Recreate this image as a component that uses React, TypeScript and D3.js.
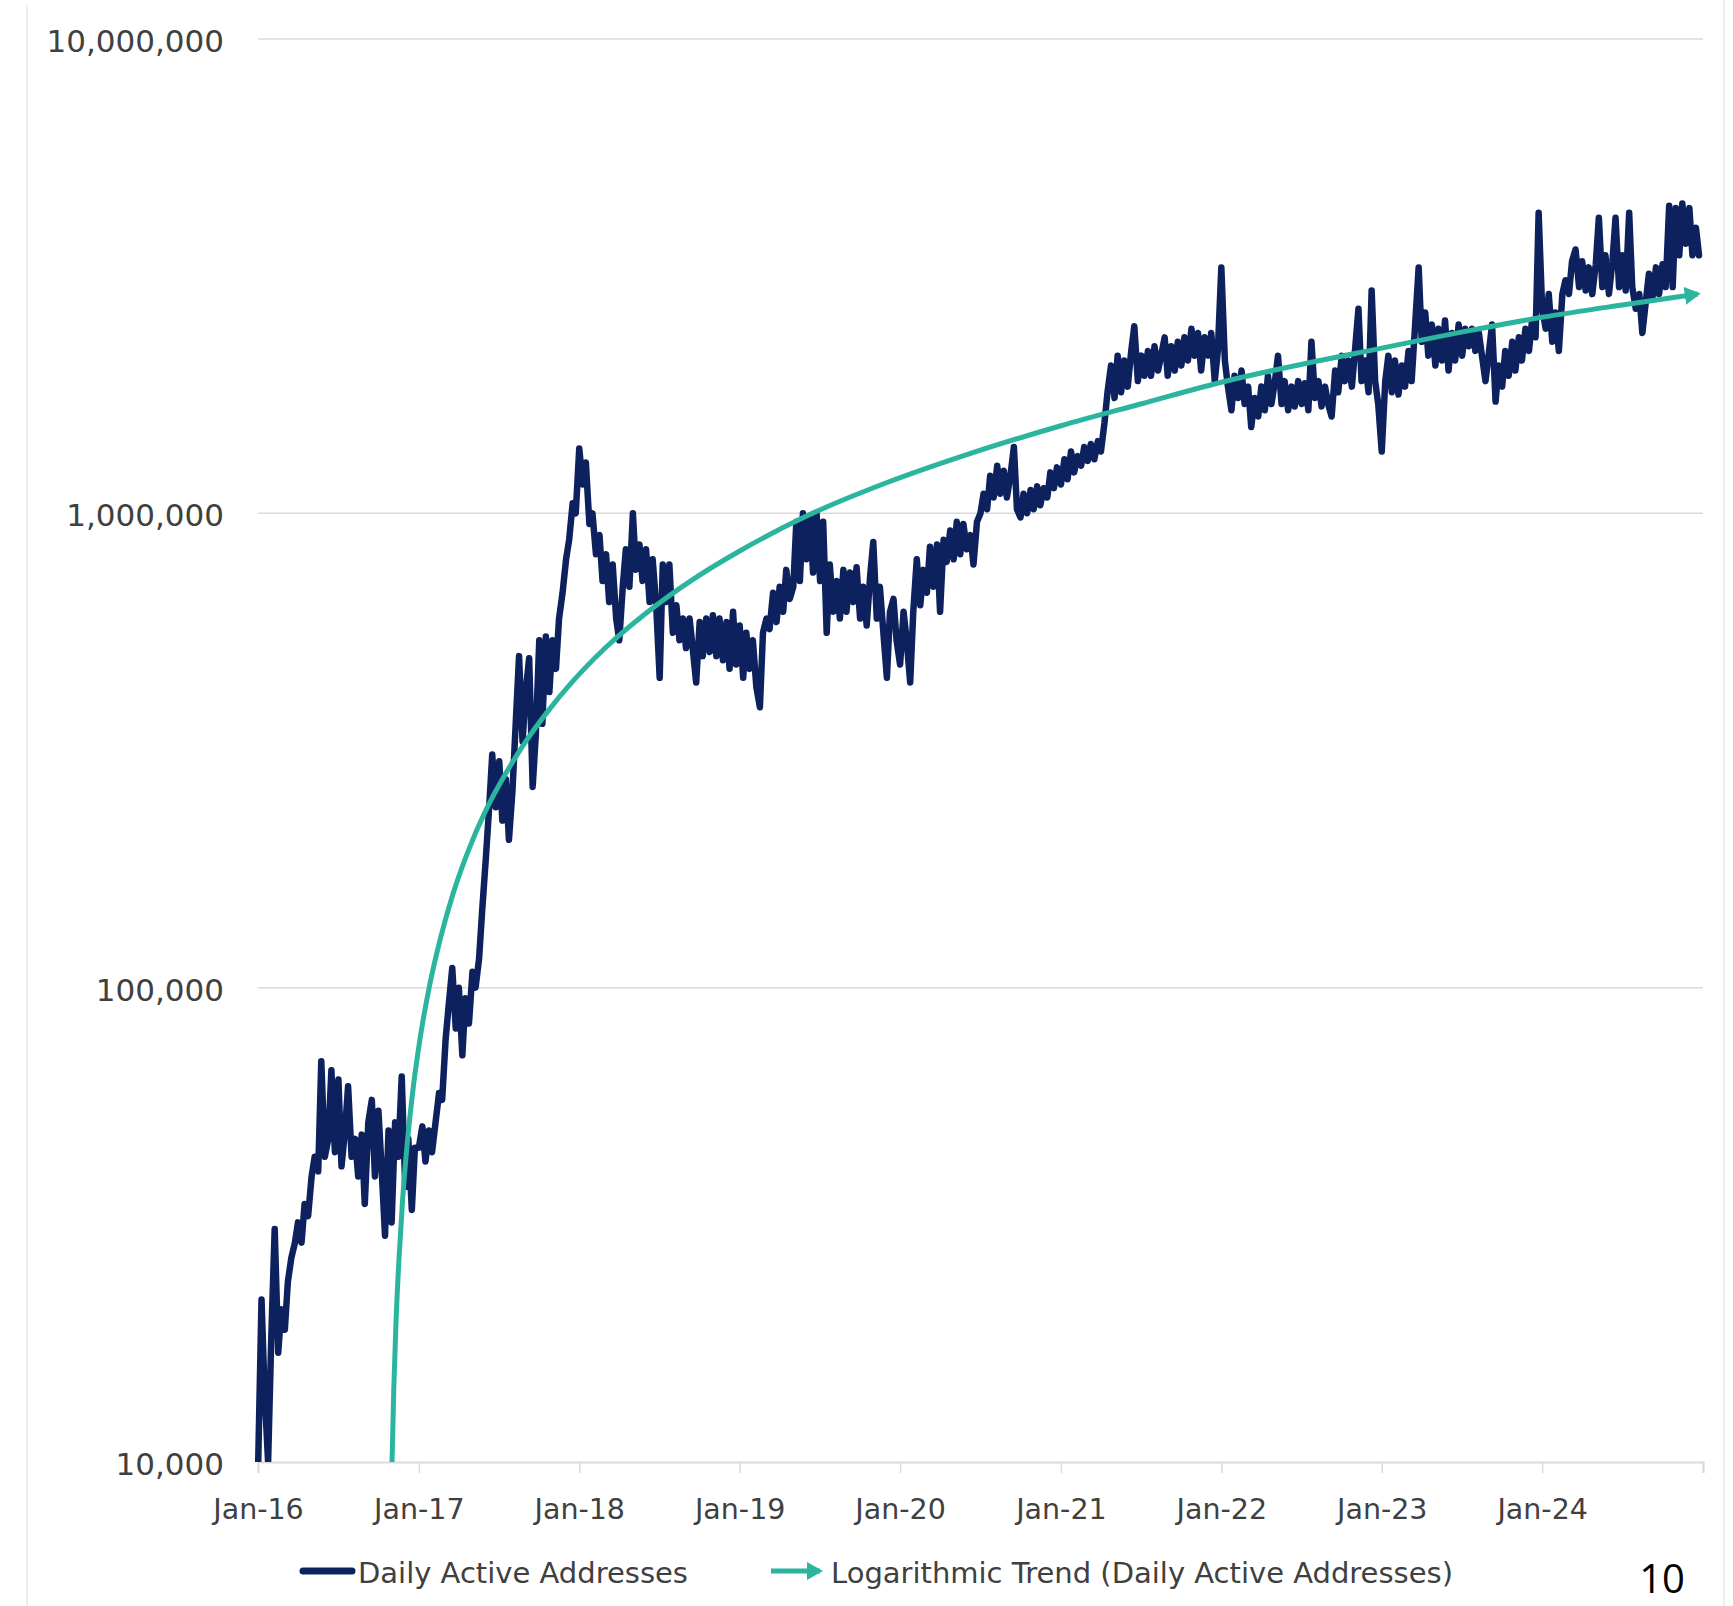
import React, { useEffect, useRef } from 'react';
import * as d3 from 'd3';

// daily active addresses in thousands, 48 readings per year
const dau2016 = [9.5, 22, 14, 10, 18, 31, 17, 21, 19, 24, 27, 29, 32, 29, 35, 33, 40, 44, 41, 70, 44, 48, 67, 45, 64, 42, 50, 62, 44, 48, 40, 49, 35, 52, 58, 40, 55, 42, 30, 50, 32, 52, 44, 65, 38, 48, 34, 46];
const dau2017 = [46, 51, 43, 50, 45, 52, 60, 58, 78, 92, 110, 82, 100, 72, 95, 84, 108, 100, 115, 145, 185, 240, 310, 240, 300, 225, 275, 205, 260, 370, 500, 330, 420, 495, 265, 340, 540, 360, 550, 420, 540, 470, 600, 680, 800, 880, 1050, 1000];
const dau2018 = [1370, 1150, 1280, 950, 1000, 820, 900, 720, 820, 650, 780, 600, 540, 700, 840, 700, 1000, 760, 860, 720, 840, 650, 800, 640, 450, 780, 650, 780, 560, 640, 540, 600, 520, 600, 510, 440, 590, 500, 600, 510, 610, 500, 600, 490, 590, 470, 620, 480];
const dau2019 = [580, 450, 560, 470, 540, 430, 390, 560, 600, 570, 680, 590, 700, 620, 760, 660, 700, 960, 720, 1000, 800, 980, 750, 1000, 720, 960, 560, 780, 620, 720, 600, 760, 620, 750, 650, 770, 600, 700, 580, 740, 870, 600, 700, 560, 450, 620, 660, 540];
const dau2020 = [480, 620, 540, 440, 620, 800, 640, 760, 680, 850, 700, 860, 620, 880, 790, 920, 800, 960, 820, 950, 840, 900, 780, 960, 1000, 1100, 1020, 1200, 1080, 1260, 1100, 1230, 1080, 1200, 1380, 1020, 980, 1100, 1000, 1120, 1020, 1140, 1040, 1130, 1080, 1220, 1130, 1250];
const dau2021 = [1150, 1300, 1180, 1350, 1220, 1320, 1260, 1380, 1290, 1400, 1300, 1420, 1350, 1550, 1800, 2050, 1750, 2150, 1800, 2100, 1850, 2200, 2480, 1900, 2150, 1950, 2200, 1950, 2250, 2000, 2150, 2350, 1950, 2250, 2000, 2300, 2050, 2350, 2100, 2450, 2150, 2400, 2000, 2350, 2150, 2400, 1900, 2200];
const dau2022 = [3300, 2100, 1850, 1650, 1950, 1750, 2000, 1700, 1850, 1520, 1750, 1600, 1850, 1650, 1950, 1700, 1900, 2150, 1700, 1900, 1650, 1850, 1680, 1900, 1700, 1880, 1650, 2300, 1750, 1900, 1680, 1850, 1700, 1600, 2000, 1800, 2150, 1900, 2100, 1850, 2200, 2700, 1900, 2100, 1800, 2950, 1900, 1700];
const dau2023 = [1350, 1900, 2150, 1800, 2100, 1780, 2050, 1850, 2200, 1900, 2500, 3300, 2300, 2650, 2150, 2500, 2050, 2450, 2100, 2550, 2000, 2400, 2100, 2500, 2150, 2450, 2250, 2450, 2200, 2400, 2150, 1900, 2150, 2500, 1720, 2050, 1850, 2200, 1950, 2300, 2000, 2350, 2100, 2450, 2200, 2550, 2350, 4300];
const dau2024 = [2700, 2450, 2900, 2300, 2650, 2200, 2900, 3100, 2900, 3400, 3600, 3000, 3400, 2950, 3300, 2900, 3350, 4200, 3000, 3500, 2900, 3400, 4200, 3000, 3500, 2950, 4300, 3000, 2700, 2900, 2400, 2800, 3200, 2850, 3300, 2900, 3350, 3000, 4450, 3000, 4400, 3500, 4500, 3700, 4400, 3500, 4000, 3500];

const years = [2016, 2017, 2018, 2019, 2020, 2021, 2022, 2023, 2024];
const yearly = [dau2016, dau2017, dau2018, dau2019, dau2020, dau2021, dau2022, dau2023, dau2024];

// logarithmic trend line (thousands)
const trendDates = ['2016-11-01', '2016-11-05', '2016-11-10', '2016-11-17', '2016-11-25', '2016-12-05', '2016-12-20', '2017-01-05', '2017-01-25', '2017-02-20', '2017-03-20', '2017-04-25', '2017-06-01', '2017-07-15', '2017-09-01', '2017-10-20', '2017-12-15', '2018-03-01', '2018-06-01', '2018-09-16', '2019-01-01', '2019-06-01', '2019-12-01', '2020-06-01', '2021-01-01', '2021-07-01', '2022-01-01', '2022-07-01', '2023-01-01', '2023-07-01', '2024-01-01', '2024-07-01', '2024-12-20'];
const trendValues = [10, 14.3, 19.7, 27, 35.7, 46.3, 62.4, 79.4, 100.6, 128, 158, 196, 235, 280, 330, 381, 440, 520, 615, 725, 833, 986, 1160, 1330, 1530, 1700, 1890, 2060, 2230, 2410, 2590, 2750, 2900];

const yTicks = [1e4, 1e5, 1e6, 1e7];
const xTickYears = [2016, 2017, 2018, 2019, 2020, 2021, 2022, 2023, 2024, 2025];
const legendLabels = ['Daily Active Addresses', 'Logarithmic Trend (Daily Active Addresses)'];
const pageNumber = '10';

const NAVY = '#0c215e';
const TEAL = '#2cb59e';
const TEXT = '#404040';
const GRID = '#dadada';
const FONT = '"DejaVu Sans", sans-serif';

function App() {
  const ref = useRef(null);

  useEffect(() => {
    const W = 1733;
    const H = 1606;
    const margin = { top: 39, right: 30, bottom: 144, left: 258 };
    const x0 = margin.left;
    const x1 = W - margin.right;
    const yTop = margin.top;
    const yBot = H - margin.bottom;

    const svg = d3.select(ref.current);
    svg.selectAll('*').remove();
    svg.attr('width', W).attr('height', H);

    svg.append('rect').attr('width', W).attr('height', H).attr('fill', '#fff');

    // faint slide borders
    svg.append('line').attr('x1', 27).attr('x2', 27).attr('y1', 5).attr('y2', H)
      .attr('stroke', '#eeeeee').attr('stroke-width', 2);
    svg.append('line').attr('x1', 1724).attr('x2', 1724).attr('y1', 0).attr('y2', H)
      .attr('stroke', '#eeeeee').attr('stroke-width', 2);

    const x = d3.scaleTime()
      .domain([new Date(2016, 0, 1), new Date(2025, 0, 1)])
      .range([x0, x1]);
    const y = d3.scaleLog().domain([1e4, 1e7]).range([yBot, yTop]);

    const defs = svg.append('defs');
    defs.append('clipPath').attr('id', 'plot-clip')
      .append('rect').attr('x', x0 - 10).attr('y', yTop - 10)
      .attr('width', x1 - x0 + 20).attr('height', yBot - yTop + 10);
    defs.append('marker')
      .attr('id', 'arrow-head')
      .attr('viewBox', '0 0 16 18')
      .attr('markerUnits', 'userSpaceOnUse')
      .attr('markerWidth', 16).attr('markerHeight', 18)
      .attr('refX', 13).attr('refY', 9)
      .attr('orient', 'auto')
      .append('path').attr('d', 'M0,0 L16,9 L0,18 Z').attr('fill', TEAL);

    // gridlines
    svg.append('g').selectAll('line')
      .data(yTicks.slice(1))
      .enter().append('line')
      .attr('x1', x0).attr('x2', x1)
      .attr('y1', d => y(d)).attr('y2', d => y(d))
      .attr('stroke', GRID).attr('stroke-width', 1.5);

    // x axis
    const xAxis = d3.axisBottom(x)
      .tickValues(xTickYears.map(yr => new Date(yr, 0, 1)))
      .tickSize(11)
      .tickPadding(20)
      .tickFormat(d => (d.getFullYear() === 2025 ? '' : d3.timeFormat('%b-%y')(d)));
    const gx = svg.append('g').attr('transform', `translate(0,${yBot})`).call(xAxis);
    gx.select('.domain').attr('stroke', GRID).attr('stroke-width', 2);
    gx.selectAll('.tick line').attr('stroke', GRID).attr('stroke-width', 1.5);
    gx.selectAll('.tick text')
      .attr('fill', TEXT)
      .style('font-family', FONT)
      .style('font-size', '28.5px')
      .attr('dy', 0)
      .attr('y', 57);

    // y labels
    svg.append('g').selectAll('text')
      .data(yTicks)
      .enter().append('text')
      .attr('x', 224)
      .attr('y', d => y(d) + 13)
      .attr('text-anchor', 'end')
      .attr('fill', TEXT)
      .style('font-family', FONT)
      .style('font-size', '31px')
      .text(d => d3.format(',')(d));

    // daily active addresses
    const series = [];
    years.forEach((yr, k) => {
      const start = new Date(yr, 0, 1);
      yearly[k].forEach((v, i) => {
        series.push({ date: d3.timeDay.offset(start, Math.round((i * 365) / 48)), value: v * 1000 });
      });
    });

    const line = d3.line()
      .x(d => x(d.date))
      .y(d => y(d.value));

    const plot = svg.append('g').attr('clip-path', 'url(#plot-clip)');
    plot.append('path')
      .datum(series)
      .attr('d', line)
      .attr('fill', 'none')
      .attr('stroke', NAVY)
      .attr('stroke-width', 6.5)
      .attr('stroke-linejoin', 'round')
      .attr('stroke-linecap', 'round');

    // logarithmic trend
    const parse = d3.timeParse('%Y-%m-%d');
    const trend = trendDates.map((s, i) => ({ date: parse(s), value: trendValues[i] * 1000 }));
    const trendLine = d3.line()
      .x(d => x(d.date))
      .y(d => y(d.value))
      .curve(d3.curveMonotoneX);
    svg.append('path')
      .datum(trend)
      .attr('d', trendLine)
      .attr('fill', 'none')
      .attr('stroke', TEAL)
      .attr('stroke-width', 5)
      .attr('marker-end', 'url(#arrow-head)');

    // legend
    const legY = 1571;
    svg.append('line')
      .attr('x1', 303).attr('x2', 352).attr('y1', legY).attr('y2', legY)
      .attr('stroke', NAVY).attr('stroke-width', 7).attr('stroke-linecap', 'round');
    svg.append('line')
      .attr('x1', 771).attr('x2', 820).attr('y1', legY).attr('y2', legY)
      .attr('stroke', TEAL).attr('stroke-width', 5)
      .attr('marker-end', 'url(#arrow-head)');
    svg.append('g').selectAll('text')
      .data(legendLabels)
      .enter().append('text')
      .attr('x', (d, i) => (i === 0 ? 358 : 831))
      .attr('y', 1583)
      .attr('fill', TEXT)
      .style('font-family', FONT)
      .style('font-size', '29px')
      .text(d => d);

    svg.append('text')
      .attr('x', 1685).attr('y', 1593)
      .attr('text-anchor', 'end')
      .attr('fill', '#000')
      .style('font-family', '"Open Sans", sans-serif')
      .style('font-size', '40px')
      .text(pageNumber);
  }, []);

  return (
    <div style={{ position: 'absolute', left: 0, top: 0 }}>
      <svg ref={ref} style={{ display: 'block' }} />
    </div>
  );
}

export default App;
